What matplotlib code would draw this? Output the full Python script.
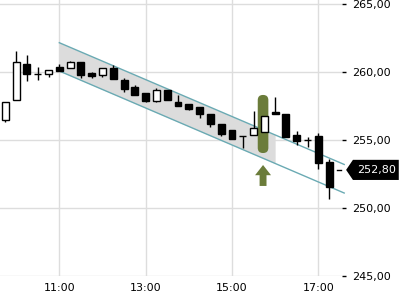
import matplotlib
matplotlib.use("Agg")
from matplotlib import pyplot as plt
from matplotlib.patches import Polygon, FancyBboxPatch
import matplotlib.transforms as mtransforms
import numpy as np

# 15-minute candles, time in hours
times = [9.75, 10.0, 10.25, 10.5, 10.75, 11.0, 11.25, 11.5, 11.75, 12.0, 12.25,
         12.5, 12.75, 13.0, 13.25, 13.5, 13.75, 14.0, 14.25, 14.5, 14.75, 15.0,
         15.25, 15.5, 15.75, 16.0, 16.25, 16.5, 16.75, 17.0, 17.25]
opens = [256.45, 257.92, 260.59, 259.85, 259.83, 260.37, 260.29, 260.74, 259.95, 259.76, 260.29,
         259.41, 258.87, 258.46, 257.89, 258.68, 257.77, 257.62, 257.40, 256.89, 256.15, 255.74,
         255.27, 255.35, 255.61, 257.04, 256.91, 255.35, 254.98, 255.29, 253.38]
highs = [257.77, 261.54, 261.25, 260.37, 260.12, 260.59, 260.83, 260.74, 260.02, 260.27, 260.49,
         259.56, 259.02, 258.46, 258.85, 258.68, 258.29, 257.62, 257.40, 256.89, 256.15, 255.74,
         255.27, 257.13, 256.74, 258.14, 256.91, 255.64, 255.22, 255.54, 253.58]
lows = [256.35, 257.92, 259.36, 259.39, 259.65, 260.10, 260.29, 259.58, 259.58, 259.61, 259.46,
        258.55, 258.33, 257.82, 257.82, 257.92, 257.52, 257.23, 256.64, 255.96, 255.29, 255.07,
        254.39, 255.35, 255.61, 256.89, 255.20, 254.61, 254.51, 252.85, 250.64]
closes = [257.77, 260.71, 259.83, 259.85, 260.12, 260.10, 260.74, 259.80, 259.68, 260.27, 259.46,
          258.77, 258.33, 257.89, 258.68, 257.92, 257.52, 257.30, 256.89, 256.15, 255.42, 255.07,
          255.27, 255.90, 256.74, 256.89, 255.24, 254.93, 254.98, 253.29, 251.57]

# trend channel (start / end)
channel_t = [11.0, 17.6]
channel_upper = [262.15, 253.20]
channel_lower = [260.07, 251.10]
channel_fill_end = 16.0

# signal candle highlight
signal_t = 15.72
signal_top = 258.31
signal_bottom = 254.04
arrow_top = 253.16
arrow_bottom = 251.62

last_price = 252.80
xticks = [11, 13, 15, 17]
xticklabels = ["11:00", "13:00", "15:00", "17:00"]
yticks = [245, 250, 255, 260, 265]

fig = plt.figure(figsize=(4, 3), dpi=100)
ax = fig.add_axes([0, 0.08, 342 / 400, 0.92])
ax.set_xlim(9.626, 17.549)
ax.set_ylim(245, 265.29)

for s in ax.spines.values():
    s.set_visible(False)
ax.grid(True, color="#dddddd", linewidth=1)
ax.set_axisbelow(True)

ax.set_xticks(xticks)
ax.set_xticklabels(xticklabels)
ax.set_yticks(yticks)
ax.set_yticklabels([("%.2f" % v).replace(".", ",") for v in yticks])
ax.yaxis.tick_right()
ax.tick_params(axis="y", length=3, width=1, pad=4, labelsize=8, direction="out")
ax.tick_params(axis="x", length=0, pad=5, labelsize=8)

# channel
t_fill = np.array([channel_t[0], channel_fill_end])
slope_u = (channel_upper[1] - channel_upper[0]) / (channel_t[1] - channel_t[0])
slope_l = (channel_lower[1] - channel_lower[0]) / (channel_t[1] - channel_t[0])
ax.fill_between(t_fill, channel_lower[0] + slope_l * (t_fill - channel_t[0]),
                channel_upper[0] + slope_u * (t_fill - channel_t[0]),
                color="#dcdcdc", linewidth=0, zorder=1)
ax.plot(channel_t, channel_upper, color="#6aaab3", linewidth=1, zorder=1.5, clip_on=False)
ax.plot(channel_t, channel_lower, color="#6aaab3", linewidth=1, zorder=1.5, clip_on=False)

# highlight bar behind signal candle
green = "#6b7c3a"
bw = 0.246
aspect = 43.15 / 13.6
hl = FancyBboxPatch((signal_t - bw / 2, signal_bottom), bw, signal_top - signal_bottom,
                    boxstyle="round,pad=0,rounding_size=0.12", mutation_aspect=aspect,
                    facecolor=green, edgecolor="none", zorder=1.8)
ax.add_patch(hl)
ax.arrow(signal_t, arrow_bottom, 0, arrow_top - arrow_bottom, width=0.16, head_width=0.37,
         head_length=0.75, length_includes_head=True, color=green, linewidth=0, zorder=2)

# candles
w = 0.16
for t, o, h, l, c in zip(times, opens, highs, lows, closes):
    ax.vlines(t, l, h, color="black", linewidth=1, zorder=2)
    up = c >= o
    ax.bar(t, max(abs(c - o), 0.001), bottom=min(o, c), width=w,
           color="white" if up else "black", edgecolor="black", linewidth=1, zorder=3)

# last price marker
trans = mtransforms.blended_transform_factory(ax.transAxes, ax.transData)
ax.plot([0.985, 0.997], [last_price, last_price], color="black", linewidth=1,
        transform=trans, clip_on=False)
hh = 0.74
tag = Polygon([(1.012, last_price), (1.032, last_price + hh), (1.166, last_price + hh),
               (1.166, last_price - hh), (1.032, last_price - hh)], closed=True,
              facecolor="black", edgecolor="none", transform=trans, clip_on=False)
ax.add_patch(tag)
ax.text(1.1, last_price, ("%.2f" % last_price).replace(".", ","), color="white",
        fontsize=8, ha="center", va="center", transform=trans)

fig.savefig("out.png", dpi=100)
